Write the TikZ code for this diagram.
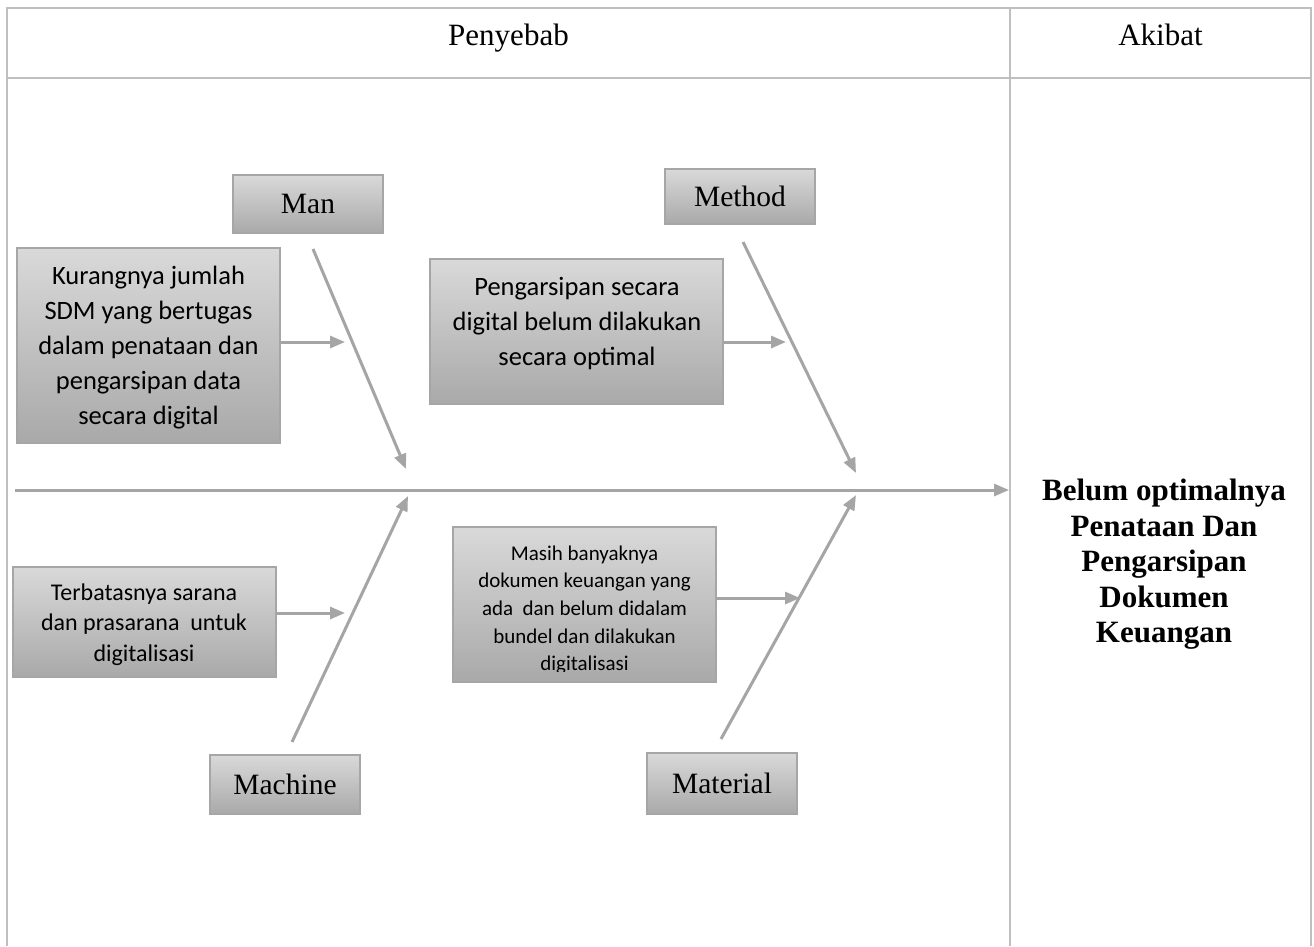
\documentclass[tikz,border=0pt]{standalone}
\usepackage{fontspec}
\setmainfont{Liberation Serif}
\newfontfamily\calibri{Carlito}
\usetikzlibrary{arrows.meta}
\definecolor{tablegray}{HTML}{BFBFBF}
\definecolor{bonegray}{HTML}{A5A5A5}
\definecolor{boxtop}{HTML}{D9D9D9}
\definecolor{boxbot}{HTML}{A9A9A9}
\definecolor{boxedge}{HTML}{A6A6A6}
\begin{document}
\begin{tikzpicture}[x=1pt,y=-1pt,
  tline/.style={draw=tablegray, line width=2pt},
  bone/.style={draw=bonegray, line width=3pt, -{Triangle[length=15pt,width=12pt]}},
  gbox/.style={draw=boxedge, line width=1.2pt, top color=boxtop, bottom color=boxbot, inner sep=0pt},
  catbox/.style={gbox, font=\fontsize{29.5}{33}\selectfont},
  ctext/.style={align=center, inner sep=0pt, anchor=north}
]
\useasboundingbox[fill=white] (0,0) rectangle (1314,946);

% table
\draw[tline] (7,946) -- (7,8) -- (1311,8) -- (1311,946);
\draw[tline] (7,78) -- (1311,78);
\draw[tline] (1010,8) -- (1010,946);
\node[font=\fontsize{31}{35}\selectfont, anchor=base, inner sep=0pt] (cause) at (508.5,45) {Penyebab};
\node[font=\fontsize{31}{35}\selectfont, anchor=base, inner sep=0pt] (effecthead) at (1160.5,45) {Akibat};

% category boxes
\node[catbox, minimum width=150pt, minimum height=58pt] (man) at (308,204) {Man};
\node[catbox, minimum width=150pt, minimum height=55pt] (method) at (740,196.5) {Method};
\node[catbox, minimum width=150pt, minimum height=59pt] (machine) at (285,784.5) {Machine};
\node[catbox, minimum width=150pt, minimum height=61pt] (material) at (722,783.5) {Material};

% cause boxes
\node[gbox, minimum width=263pt, minimum height=195pt] (kur) at (148.5,345.5) {};
\node[gbox, minimum width=293pt, minimum height=145pt] (peng) at (576.5,331.5) {};
\node[gbox, minimum width=263pt, minimum height=110pt] (terb) at (144.5,622) {};
\node[gbox, minimum width=263pt, minimum height=155pt] (masih) at (584.5,604.5) {};

\node[ctext, font=\calibri\fontsize{26.5}{35}\selectfont] (kurtext) at (148.5,259.5)
  {\strut Kurangnya jumlah\\SDM yang bertugas\\dalam penataan dan\\pengarsipan data\\secara digital};
\node[ctext, font=\calibri\fontsize{26.5}{35}\selectfont] (pengtext) at (577,270.5)
  {\strut Pengarsipan secara\\digital belum dilakukan\\secara optimal};
\node[ctext, font=\calibri\fontsize{24}{30.8}\selectfont] (terbtext) at (144,578.4)
  {\strut Terbatasnya sarana\\dan prasarana \ untuk\\digitalisasi};
\begin{scope}
\clip (453,527) rectangle (716,671);
\node[ctext, font=\calibri\fontsize{21}{27.6}\selectfont] (masihtext) at (584.5,540.7)
  {\strut Masih banyaknya\\dokumen keuangan yang\\ada \ dan belum didalam\\bundel dan dilakukan\\digitalisasi};
\end{scope}

% effect
\node[ctext, font=\bfseries\fontsize{31}{35.5}\selectfont] (effect) at (1164,475.5)
  {\strut Belum optimalnya\\Penataan Dan\\Pengarsipan\\Dokumen\\Keuangan};

% spine and bones
\coordinate (spineTail) at (15,490);
\coordinate (spineHead) at (1009,490);
\draw[bone] (spineTail) -- (spineHead);

\coordinate (manTail) at (313,249);   \coordinate (manHead) at (406,469);
\coordinate (metTail) at (743,242);   \coordinate (metHead) at (856,473);
\coordinate (macTail) at (292,742);   \coordinate (macHead) at (408,496);
\coordinate (matTail) at (721,739);   \coordinate (matHead) at (856,495);
\draw[bone] (manTail) -- (manHead);
\draw[bone] (metTail) -- (metHead);
\draw[bone] (macTail) -- (macHead);
\draw[bone] (matTail) -- (matHead);

\coordinate (kurHead) at (345,342);
\coordinate (pengHead) at (786,342);
\coordinate (terbHead) at (345,613);
\coordinate (masihHead) at (800,598);
\draw[bone] (kur.east |- kurHead) -- (kurHead);
\draw[bone] (peng.east |- pengHead) -- (pengHead);
\draw[bone] (terb.east |- terbHead) -- (terbHead);
\draw[bone] (masih.east |- masihHead) -- (masihHead);
\end{tikzpicture}
\end{document}
